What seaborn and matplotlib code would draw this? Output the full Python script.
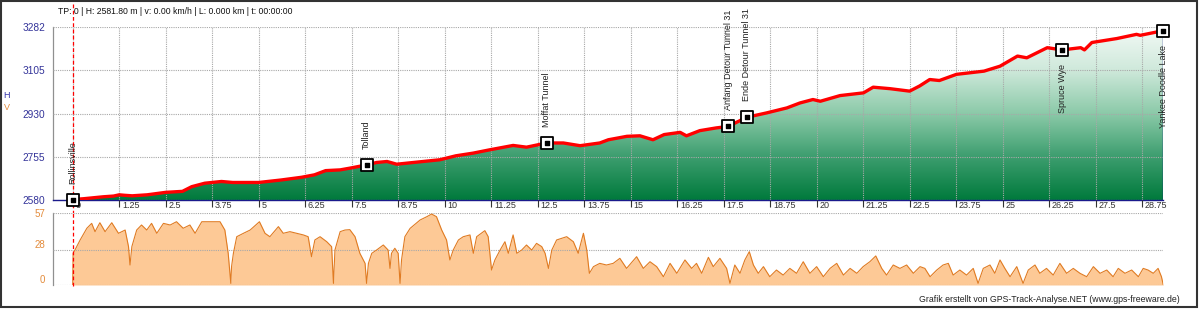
import numpy as np
import matplotlib
matplotlib.use("Agg")
import matplotlib.pyplot as plt
import seaborn as sns
from matplotlib.colors import LinearSegmentedColormap
from matplotlib.patches import Rectangle

# ---------------- data ----------------
dist_km = [0.00, 0.28, 0.82, 1.10, 1.25, 1.40, 1.60, 2.00, 2.50, 2.95, 3.20, 3.55, 4.00, 4.30,
           5.00, 5.60, 6.15, 6.50, 6.80, 7.19, 7.45, 7.90, 8.17, 8.45, 8.71, 9.16, 9.87, 10.30,
           10.77, 11.20, 11.84, 12.20, 12.74, 13.19, 13.64, 14.17, 14.40, 14.90, 15.25, 15.60,
           15.90, 16.33, 16.50, 16.86, 17.30, 17.62, 18.12, 18.66, 19.20, 19.55, 19.90, 20.10,
           20.63, 21.26, 21.52, 21.97, 22.50, 22.77, 23.04, 23.30, 23.76, 24.50, 24.93, 25.40,
           25.65, 26.20, 26.60, 27.10, 27.20, 27.40, 28.07, 28.60, 28.70, 29.32]
elev_m = [2582, 2585, 2593, 2596, 2601, 2599, 2597, 2601, 2611, 2615, 2634, 2648, 2655, 2651,
          2651, 2661, 2672, 2682, 2699, 2702, 2709, 2722, 2732, 2736, 2725, 2732, 2743, 2759,
          2770, 2783, 2801, 2794, 2811, 2811, 2800, 2811, 2824, 2838, 2840, 2824,
          2845, 2854, 2840, 2861, 2872, 2878, 2915, 2933, 2953, 2973, 2987, 2980,
          3003, 3014, 3037, 3031, 3021, 3042, 3068, 3064, 3089, 3102, 3122, 3163,
          3156, 3197, 3188, 3197, 3188, 3218, 3234, 3251, 3247, 3266]

speed_km = [0.00, 0.01, 0.06, 0.20, 0.38, 0.51, 0.60, 0.73, 0.87, 1.05, 1.23, 1.41, 1.50, 1.54,
            1.59, 1.72, 1.85, 1.99, 2.12, 2.26, 2.44, 2.62, 2.79, 2.97, 3.15, 3.29, 3.47, 3.78,
            3.96, 4.09, 4.18, 4.25, 4.27, 4.32, 4.41, 4.59, 4.77, 5.02, 5.17, 5.30, 5.53, 5.66,
            5.84, 6.02, 6.20, 6.33, 6.42, 6.51, 6.65, 6.83, 6.96, 7.01, 7.05, 7.19, 7.32, 7.45,
            7.59, 7.72, 7.86, 7.90, 7.95, 8.04, 8.17, 8.35, 8.48, 8.53, 8.57, 8.66, 8.75, 8.80,
            8.84, 8.93, 9.07, 9.34, 9.52, 9.65, 9.78, 9.92, 10.05, 10.14, 10.23, 10.37, 10.50,
            10.68, 10.77, 10.86, 11.08, 11.17, 11.26, 11.35, 11.49, 11.62, 11.71, 11.84, 11.94,
            12.07, 12.20, 12.34, 12.47, 12.61, 12.70, 12.79, 12.88, 13.01, 13.28, 13.46, 13.59,
            13.73, 13.82, 13.89, 14.00, 14.17, 14.35, 14.53, 14.71, 14.89, 15.16, 15.34, 15.52,
            15.70, 15.88, 16.06, 16.24, 16.46, 16.64, 16.77, 16.91, 17.09, 17.22, 17.40, 17.58,
            17.67, 17.80, 17.94, 18.07, 18.19, 18.30, 18.43, 18.57, 18.74, 18.92, 19.10, 19.28,
            19.46, 19.64, 19.82, 20.00, 20.18, 20.36, 20.54, 20.72, 20.90, 21.08, 21.25, 21.43,
            21.59, 21.75, 21.88, 22.06, 22.24, 22.42, 22.60, 22.78, 22.91, 23.05, 23.23, 23.40,
            23.54, 23.67, 23.85, 24.03, 24.21, 24.34, 24.48, 24.66, 24.79, 24.93, 25.06, 25.20,
            25.38, 25.55, 25.69, 25.87, 26.00, 26.18, 26.36, 26.54, 26.72, 26.90, 27.08, 27.26,
            27.44, 27.62, 27.80, 27.97, 28.11, 28.29, 28.47, 28.65, 28.78, 28.91, 29.05, 29.18,
            29.27, 29.32]
speed_kmh = [0.0, 25.2, 27.8, 35.8, 45.1, 49.0, 42.4, 49.5, 42.4, 49.5, 41.1, 43.7, 30.5, 15.9,
             30.5, 43.7, 47.7, 43.7, 49.0, 41.1, 49.0, 47.7, 50.3, 45.1, 47.7, 41.1, 50.3, 50.3,
             50.3, 43.7, 25.2, 1.3, 14.6, 25.2, 38.4, 41.1, 43.7, 50.3, 41.1, 38.4, 46.4, 41.1,
             42.4, 41.1, 39.8, 38.4, 22.5, 35.8, 38.4, 34.4, 30.5, 1.3, 27.8, 42.4, 43.7, 44.0,
             38.4, 25.2, 17.2, 1.3, 17.2, 25.2, 27.8, 31.8, 27.8, 13.2, 25.2, 29.2, 25.2, 1.3,
             19.9, 38.4, 45.0, 51.7, 54.3, 56.4, 54.3, 43.7, 35.8, 19.9, 27.8, 35.8, 38.4,
             39.8, 25.2, 38.4, 43.2, 38.4, 11.9, 19.9, 27.8, 34.4, 25.2, 39.8, 25.2,
             27.8, 31.8, 27.8, 33.1, 30.5, 25.2, 13.2, 27.8, 35.8, 38.4, 34.4, 25.2,
             41.1, 27.8, 9.3, 14.6, 17.2, 15.9, 17.2, 21.2, 13.2, 22.5, 13.2, 18.5,
             14.6, 6.6, 17.2, 9.3, 19.9, 13.2, 17.2, 9.3, 22.0, 14.6, 21.2, 13.2,
             1.3, 15.9, 9.3, 19.9, 26.5, 15.9, 9.3, 14.6, 6.6, 11.9, 7.9, 13.2,
             9.3, 18.5, 9.3, 14.6, 6.6, 13.2, 17.2, 7.9, 13.2, 9.3, 14.6, 18.5,
             23.1, 13.2, 7.9, 15.9, 13.2, 15.9, 9.3, 14.6, 13.2, 6.6, 11.9, 15.9,
             17.2, 7.9, 11.9, 7.9, 13.2, 1.3, 13.2, 15.9, 9.3, 19.9, 13.2, 6.6,
             14.6, 1.3, 11.9, 15.9, 9.3, 13.2, 7.9, 17.2, 9.3, 13.2, 9.3, 6.6,
             14.6, 9.3, 11.9, 6.6, 13.2, 9.3, 11.9, 6.6, 13.2, 11.9, 9.3, 13.2,
             6.6, 0.0]

waypoint_names = ["Rollinsville", "Tolland", "Moffat Tunnel", "Anfang Detour Tunnel 31",
                  "Ende Detour Tunnel 31", "Spruce Wye", "Yankee Doodle Lake"]
waypoint_km = [0.00, 7.90, 12.74, 17.62, 18.12, 26.60, 29.32]
waypoint_elev = [2582, 2722, 2811, 2878, 2915, 3188, 3266]

x_ticks = [0, 1.25, 2.5, 3.75, 5, 6.25, 7.5, 8.75, 10, 11.25, 12.5, 13.75, 15, 16.25, 17.5,
           18.75, 20, 21.25, 22.5, 23.75, 25, 26.25, 27.5, 28.75]
x_tick_labels = ["0", "1.25", "2.5", "3.75", "5", "6.25", "7.5", "8.75", "10", "11.25", "12.5",
                 "13.75", "15", "16.25", "17.5", "18.75", "20", "21.25", "22.5", "23.75", "25",
                 "26.25", "27.5", "28.75"]
elev_ticks = [2580, 2755, 2930, 3105, 3282]
speed_ticks = [0, 28, 57]

header_text = "TP: 0 | H: 2581.80 m | v: 0.00 km/h | L: 0.000 km | t: 00:00:00"
credit_text = "Grafik erstellt von GPS-Track-Analyse.NET (www.gps-freeware.de)"

# ---------------- style ----------------
sns.set_style("white")
plt.rcParams['font.family'] = ['Liberation Sans', 'DejaVu Sans']

W, H = 1200, 309
fig = plt.figure(figsize=(12, 3.09), dpi=100)
fig.patch.set_facecolor("white")


def ax_rect(x0, y0, x1, y1):
    return [x0 / W, 1 - y1 / H, (x1 - x0) / W, (y1 - y0) / H]


ax = fig.add_axes(ax_rect(53, 26.7, 1163.3, 200))
ax2 = fig.add_axes(ax_rect(53, 213.3, 1163.3, 285))
xlim = (-0.53, 29.32)

grid_kw = dict(color="#a8a8a8", ls=(0, (1, 1)), lw=0.8)
blue_lbl = "#333399"
orange_lbl = "#e38b3b"

# ---------------- elevation ----------------
ax.set_xlim(xlim)
ax.set_ylim(elev_ticks[0], elev_ticks[-1])
poly = ax.fill_between(dist_km, elev_m, elev_ticks[0], color="none", lw=0)
cmap = LinearSegmentedColormap.from_list(
    "g", ["#007a3c", "#3d9e6f", "#8ccaa9", "#cfe9db", "#f4faf7"])
grad = np.linspace(0, 1, 256).reshape(-1, 1)
im = ax.imshow(grad, cmap=cmap, extent=[xlim[0], xlim[1], elev_ticks[0], elev_ticks[-1]],
               origin="lower", aspect="auto", zorder=1, interpolation="bilinear")
im.set_clip_path(poly.get_paths()[0], transform=ax.transData)

sns.lineplot(x=dist_km, y=elev_m, ax=ax, color="#ff0000", lw=2.4, zorder=4,
             sort=False, estimator=None)
ax.vlines(dist_km[-1], elev_ticks[0], elev_m[-1], color="#1a1a8c", lw=1.0, zorder=3)

ax.set_axisbelow(False)
ax.set_xticks(x_ticks)
ax.set_xticklabels([])
ax.set_yticks(elev_ticks)
ax.set_yticklabels([str(t) for t in elev_ticks], color=blue_lbl, fontsize=7.3)
ax.grid(True, **grid_kw)
ax.tick_params(axis="x", direction="out", length=5, width=0.8, color="#333333", bottom=True)
ax.tick_params(axis="y", length=0, pad=5.8)
for s in ["top", "right"]:
    ax.spines[s].set_visible(False)
ax.spines["left"].set_color("#909090")
ax.spines["left"].set_linewidth(0.9)
ax.spines["bottom"].set_color("#1a1a8c")
ax.spines["bottom"].set_linewidth(1.0)
ax.set_xlabel("")
ax.set_ylabel("")

for t, lab in zip(x_ticks, x_tick_labels):
    ax.annotate(lab, xy=(t, 0), xycoords=("data", "axes fraction"), xytext=(2.0, -3.6),
                textcoords="offset points", ha="left", va="center", fontsize=6.5,
                color="#333333", annotation_clip=False)

# waypoints
ax.scatter(waypoint_km, waypoint_elev, marker="s", s=82, facecolor="white",
           edgecolor="black", linewidth=1.3, zorder=7, clip_on=False)
ax.scatter(waypoint_km, waypoint_elev, marker="s", s=9, color="black", zorder=8, clip_on=False)
for name, k, e in zip(waypoint_names, waypoint_km, waypoint_elev):
    above = e < 3150
    ax.annotate(name, xy=(k, e), xytext=(0, 11.5 if above else -10.5),
                textcoords="offset points", rotation=90, ha="center",
                va="bottom" if above else "top", fontsize=6.5, color="#222222",
                zorder=9, annotation_clip=False)

# red cursor line
ax.axvline(0, ymin=-0.081, ymax=1.131, color="#ff0000", ls=(0, (3, 2)), lw=0.9,
           clip_on=False, zorder=6)

# ---------------- speed ----------------
ax2.set_xlim(xlim)
ax2.set_ylim(speed_ticks[0], speed_ticks[-1])
ax2.fill_between(speed_km, speed_kmh, 0, color="#fdc996", lw=0, zorder=1)
sns.lineplot(x=speed_km, y=speed_kmh, ax=ax2, color="#e07b22", lw=0.8, zorder=3,
             sort=False, estimator=None)
ax2.set_axisbelow(False)
ax2.set_xticks([])
ax2.set_yticks(speed_ticks)
ax2.set_yticklabels([str(t) for t in speed_ticks], color=orange_lbl, fontsize=7.0)
for lbl, t in zip(ax2.get_yticklabels(), speed_ticks):
    if t != speed_ticks[-1]:
        lbl.set_va("bottom")
ax2.grid(True, axis="y", **grid_kw)
ax2.tick_params(axis="y", length=0, pad=5.8)
for s in ["top", "right", "bottom"]:
    ax2.spines[s].set_visible(False)
ax2.spines["left"].set_color("#909090")
ax2.spines["left"].set_linewidth(0.9)
ax2.set_xlabel("")
ax2.set_ylabel("")
ax2.axvline(0, ymin=-0.02, ymax=1, color="#ff0000", ls=(0, (3, 2)), lw=0.9,
            clip_on=False, zorder=6)

# ---------------- texts / frame ----------------
fig.text(58 / W, 1 - 11 / H, header_text, fontsize=6.2, ha="left", va="center", color="#111111")
fig.text(1180 / W, 1 - 299 / H, credit_text, fontsize=6.3, ha="right", va="center",
         color="#222222")
fig.text(7 / W, 1 - 95 / H, "H", fontsize=6.5, ha="center", va="center", color="#3333aa")
fig.text(7 / W, 1 - 107 / H, "V", fontsize=6.5, ha="center", va="center", color=orange_lbl)
fig.add_artist(Rectangle((1 / W, 1 - 306.7 / H), 1195.7 / W, 305.7 / H, transform=fig.transFigure,
                         fill=False, edgecolor="#333333", lw=1.5))

fig.savefig("out.png", dpi=100)
